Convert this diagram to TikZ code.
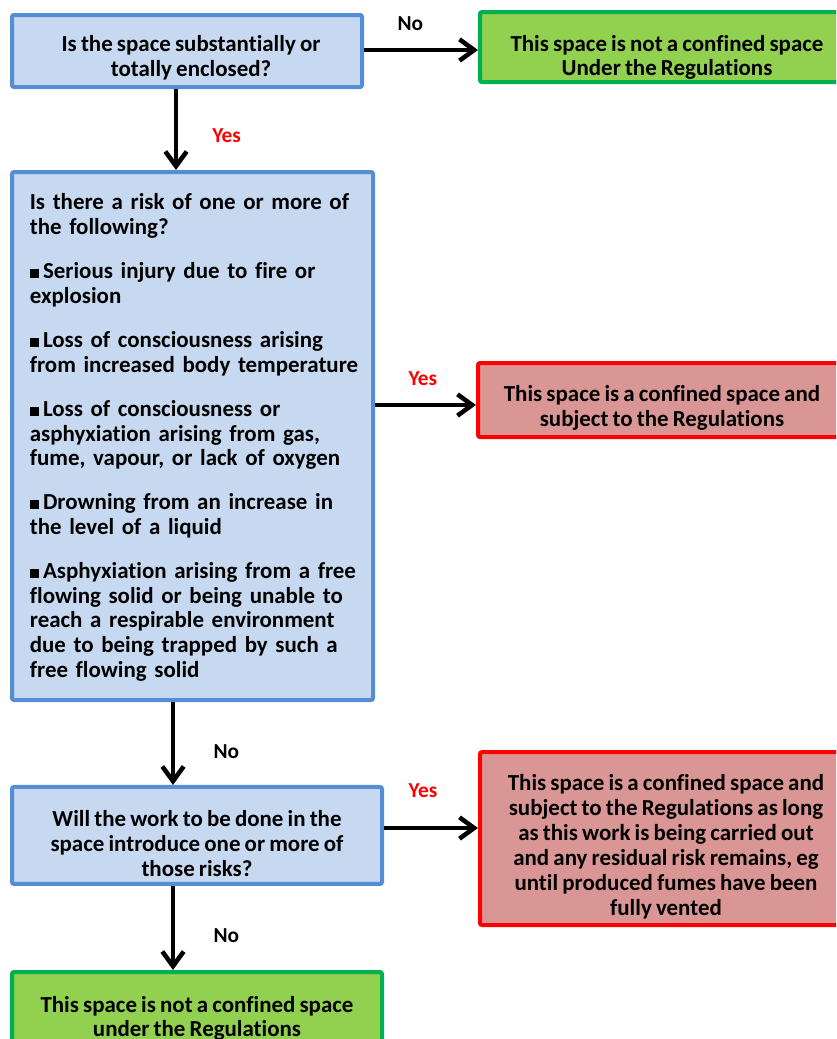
\documentclass[tikz,border=0pt]{standalone}
\usepackage{fontspec}
\setmainfont{Carlito}[Ligatures=CommonOff, WordSpace=0.8]
\usetikzlibrary{arrows.meta,calc}
\definecolor{bfill}{HTML}{C6D9F1}
\definecolor{bline}{HTML}{558ED5}
\definecolor{gfill}{HTML}{92D050}
\definecolor{gline}{HTML}{00B050}
\definecolor{rfill}{HTML}{D99694}
\definecolor{rline}{HTML}{FF0000}
\newcommand{\sq}{\rule[0.5pt]{7pt}{7pt}\,}
\newcommand{\dn}[1]{\rule{0pt}{#1}}
\newcommand{\ind}{\hspace*{4pt}}
\tikzset{
  basebox/.style={rectangle, rounded corners=1.5pt, line width=3pt, inner sep=0pt,
    font=\bfseries\fontsize{17.2}{18.4}\selectfont, align=center},
  bluebox/.style={basebox, draw=bline, fill=bfill},
  greenbox/.style={basebox, draw=gline, fill=gfill},
  redbox/.style={basebox, draw=rline, fill=rfill},
  arr/.style={line width=3.2pt, -{Straight Barb[length=11pt,width=16pt,line width=3.4pt]}},
  lbl/.style={font=\bfseries\fontsize{16}{18}\selectfont, text=black},
  ylbl/.style={lbl, text=rline},
}
\begin{document}
\begin{tikzpicture}[x=1pt,y=-1pt]
\useasboundingbox (0,0) rectangle (627,779.25);
\clip (0,0) rectangle (627,779.25);
\node[bluebox, minimum width=262.5pt, minimum height=54pt] (q1) at (140.25,38.25)
  {\dn{22pt}\hspace*{6pt}Is the space substantially or\\\hspace*{6pt}totally enclosed?};
\node[greenbox, minimum width=280.5pt, minimum height=52.5pt] (g1) at (500.25,35.25)
  {\dn{28pt}This space is not a confined space\\Under the Regulations};
\node[bluebox, minimum width=270.75pt, minimum height=396pt, text width=252pt, align=left] (q2) at (144.4,327)
  {\dn{14pt}\ind Is there a risk of one or more of\\\ind the following?\\[14.9pt]
   \ind\sq Serious injury due to fire or\\\ind explosion\\[14.9pt]
   \ind\sq Loss of consciousness arising\\\ind from increased body temperature\\[14.9pt]
   \ind\sq Loss of consciousness or\\\ind asphyxiation arising from gas,\\\ind fume, vapour, or lack of oxygen\\[14.9pt]
   \ind\sq Drowning from an increase in\\\ind the level of a liquid\\[14.9pt]
   \ind\sq Asphyxiation arising from a free\\\ind flowing solid or being unable to\\\ind reach a respirable environment\\\ind due to being trapped by such a\\\ind free flowing solid};
\node[redbox, minimum width=276pt, minimum height=55.5pt] (r1) at (496.5,300)
  {\dn{24pt}This space is a confined space and\\subject to the Regulations};
\node[bluebox, minimum width=277.5pt, minimum height=72.75pt, font=\bfseries\fontsize{17.2}{18.75}\selectfont] (q3) at (147.75,626.6)
  {\dn{23.5pt}Will the work to be done in the\\space introduce one or more of\\those risks?};
\node[redbox, minimum width=279pt, minimum height=129.75pt, font=\bfseries\fontsize{17.2}{18.75}\selectfont] (r2) at (499.5,628.9)
  {\dn{25pt}This space is a confined space and\\subject to the Regulations as long\\as this work is being carried out\\and any residual risk remains, eg\\until produced fumes have been\\fully vented};
\node[greenbox, minimum width=277.5pt, minimum height=64pt] (g2) at (147.75,761)
  {\dn{17.5pt}This space is not a confined space\\under the Regulations};
\coordinate (v1) at (132,0);
\coordinate (v2) at (129.75,0);
\draw[arr] ($(q1.east)+(0,-0.75)$) -- node[lbl, yshift=19.5pt, xshift=-8pt] {No} ($(q1.east -| g1.west)+(0,-0.75)$);
\draw[arr] (q1.south -| v1) -- node[ylbl, pos=0.58, xshift=38pt] {Yes} (q2.north -| v1);
\draw[arr] (q2.east |- 0,303.75) -- node[ylbl, yshift=19.5pt, xshift=-2pt] {Yes} (r1.west |- 0,303.75);
\draw[arr] (q2.south -| v2) -- node[lbl, pos=0.6, xshift=40pt] {No} (q3.north -| v2);
\draw[arr] (q3.east |- 0,621) -- node[ylbl, yshift=27.75pt, xshift=-6pt] {Yes} (r2.west |- 0,621);
\draw[arr] (q3.south -| v2) -- node[lbl, pos=0.59, xshift=40pt] {No} (g2.north -| v2);
\end{tikzpicture}
\end{document}
